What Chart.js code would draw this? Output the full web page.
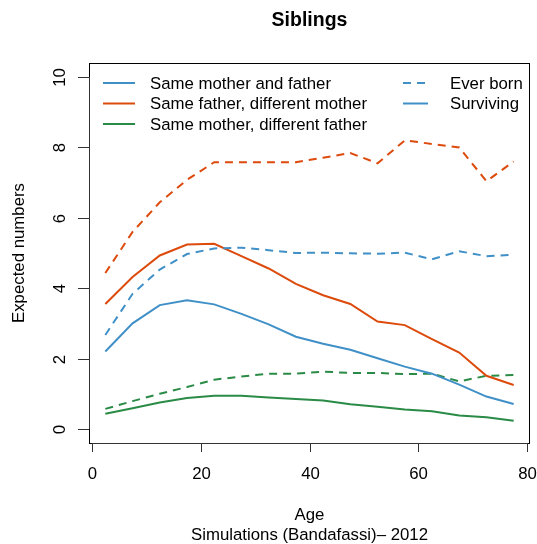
<!DOCTYPE html>
<html>
<head>
<meta charset="utf-8">
<script src="https://cdn.jsdelivr.net/npm/chart.js@4/dist/chart.umd.min.js"></script>
<style>
  html, body { margin: 0; padding: 0; background: #fff; }
  canvas { display: block; }
</style>
</head>
<body>
<canvas id="myChart" width="537" height="544"></canvas>
<script>
// age groups (midpoints of 5-year bands)
var ages = [2.5, 7.5, 12.5, 17.5, 22.5, 27.5, 32.5, 37.5, 42.5, 47.5, 52.5, 57.5, 62.5, 67.5, 72.5, 77.5];

// same mother and father
var fullEver = [2.67, 3.84, 4.53, 4.97, 5.13, 5.15, 5.08, 5.00, 5.01, 4.99, 4.98, 5.01, 4.82, 5.05, 4.91, 4.95];
var fullSurv = [2.20, 3.00, 3.52, 3.66, 3.54, 3.27, 2.97, 2.62, 2.42, 2.25, 2.01, 1.77, 1.57, 1.26, 0.92, 0.71];
// same father, different mother
var patEver = [4.43, 5.60, 6.44, 7.08, 7.58, 7.58, 7.58, 7.58, 7.71, 7.84, 7.55, 8.20, 8.10, 8.00, 7.04, 7.60];
var patSurv = [3.55, 4.32, 4.93, 5.24, 5.26, 4.91, 4.56, 4.12, 3.80, 3.55, 3.05, 2.95, 2.55, 2.17, 1.51, 1.25];
// same mother, different father
var matEver = [0.57, 0.79, 1.00, 1.19, 1.40, 1.49, 1.57, 1.57, 1.63, 1.59, 1.59, 1.56, 1.57, 1.35, 1.51, 1.53];
var matSurv = [0.43, 0.59, 0.75, 0.88, 0.94, 0.94, 0.89, 0.85, 0.81, 0.70, 0.63, 0.55, 0.50, 0.38, 0.33, 0.23];

var xTicks = [0, 20, 40, 60, 80];
var yTicks = [0, 2, 4, 6, 8, 10];

var groupNames = ['Same mother and father', 'Same father, different mother', 'Same mother, different father'];
var typeNames = ['Ever born', 'Surviving'];

var blue = '#4090c8', orange = '#dc4a0c', green = '#2a8b46';
var dash = [8, 6];
var font = '"Liberation Sans", Arial, Helvetica, sans-serif';

function pts(vals){
    return ages.map(function(a, i){ return {x: a, y: vals[i]}; });
}

function series(vals, color, dashed){
    return {
        data: pts(vals),
        borderColor: color,
        borderWidth: 2,
        borderDash: dashed ? dash : [],
        pointRadius: 0,
        tension: 0,
        fill: false
    };
}

// box, axes, titles and legend drawn the way base R lays them out
var frame = {
    id: 'frame',
    afterDraw: function(c){
        var ctx = c.ctx, a = c.chartArea;
        var xs = c.scales.x, ys = c.scales.y;
        ctx.save();
        ctx.strokeStyle = '#000';
        ctx.lineWidth = 1;
        ctx.strokeRect(a.left + 0.5, a.top + 0.5, a.right - a.left - 1, a.bottom - a.top);

        ctx.fillStyle = '#000';
        ctx.font = '16.8px ' + font;
        ctx.strokeStyle = '#333';

        // x axis
        ctx.beginPath();
        ctx.moveTo(xs.getPixelForValue(xTicks[0]), a.bottom + 0.5);
        ctx.lineTo(xs.getPixelForValue(xTicks[xTicks.length - 1]), a.bottom + 0.5);
        ctx.stroke();
        ctx.textAlign = 'center';
        ctx.textBaseline = 'top';
        xTicks.forEach(function(v){
            var px = Math.round(xs.getPixelForValue(v)) + 0.5;
            ctx.beginPath();
            ctx.moveTo(px, a.bottom);
            ctx.lineTo(px, a.bottom + 9);
            ctx.stroke();
            ctx.fillText(String(v), px, a.bottom + 23);
        });

        // y axis
        ctx.beginPath();
        ctx.moveTo(a.left + 0.5, ys.getPixelForValue(yTicks[0]));
        ctx.lineTo(a.left + 0.5, ys.getPixelForValue(yTicks[yTicks.length - 1]));
        ctx.stroke();
        yTicks.forEach(function(v){
            var py = Math.round(ys.getPixelForValue(v)) + 0.5;
            ctx.beginPath();
            ctx.moveTo(a.left, py);
            ctx.lineTo(a.left - 11, py);
            ctx.stroke();
            ctx.save();
            ctx.translate(60, py);
            ctx.rotate(-Math.PI / 2);
            ctx.textAlign = 'center';
            ctx.textBaseline = 'middle';
            ctx.fillText(String(v), 0, 0);
            ctx.restore();
        });

        // axis titles
        ctx.save();
        ctx.translate(19, (a.top + a.bottom) / 2);
        ctx.rotate(-Math.PI / 2);
        ctx.textAlign = 'center';
        ctx.textBaseline = 'middle';
        ctx.fillText('Expected numbers', 0, 0);
        ctx.restore();

        var cx = (a.left + a.right) / 2;
        ctx.textAlign = 'center';
        ctx.textBaseline = 'middle';
        ctx.fillText('Age', cx, 515);
        ctx.fillText('Simulations (Bandafassi)\u2013 2012', cx, 535);

        ctx.font = 'bold 19.5px ' + font;
        ctx.fillText('Siblings', cx, 21);

        // legend
        ctx.font = '16.8px ' + font;
        ctx.textAlign = 'left';
        ctx.lineWidth = 2;
        var rows = [83, 103.5, 124];
        var cols = [blue, orange, green];
        groupNames.forEach(function(n, i){
            ctx.strokeStyle = cols[i];
            ctx.setLineDash([]);
            ctx.beginPath();
            ctx.moveTo(103, rows[i]);
            ctx.lineTo(135, rows[i]);
            ctx.stroke();
            ctx.fillText(n, 150, rows[i] + 1);
        });
        typeNames.forEach(function(n, i){
            ctx.strokeStyle = blue;
            ctx.setLineDash(i === 0 ? dash : []);
            ctx.beginPath();
            ctx.moveTo(403, rows[i]);
            ctx.lineTo(428, rows[i]);
            ctx.stroke();
            ctx.fillText(n, 450, rows[i] + 1);
        });
        ctx.restore();
    }
};

var ctx = document.getElementById('myChart').getContext('2d');
var myChart = new Chart(ctx, {
    type: 'line',
    data: {
        datasets: [
            series(fullEver, blue, true),
            series(fullSurv, blue, false),
            series(patEver, orange, true),
            series(patSurv, orange, false),
            series(matEver, green, true),
            series(matSurv, green, false)
        ]
    },
    options: {
        responsive: false,
        animation: false,
        devicePixelRatio: 1,
        layout: { padding: { left: 89, right: 7, top: 63, bottom: 101 } },
        plugins: { legend: { display: false }, tooltip: { enabled: false }, title: { display: false } },
        scales: {
            x: { type: 'linear', min: -0.5, max: 80.5, display: false },
            y: { type: 'linear', min: -0.4, max: 10.4, display: false }
        }
    },
    plugins: [frame]
});
</script>
</body>
</html>
